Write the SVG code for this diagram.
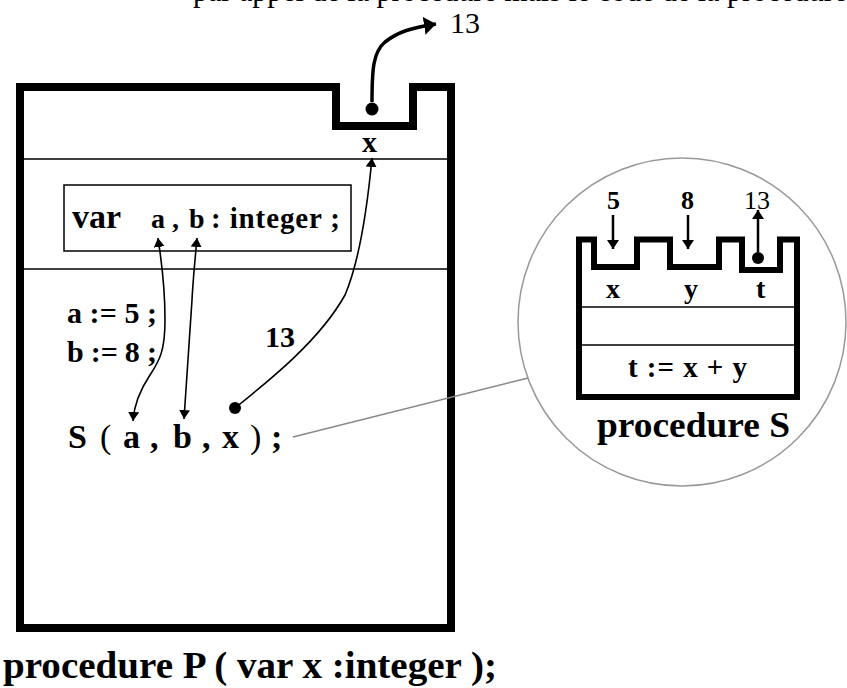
<svg xmlns="http://www.w3.org/2000/svg" width="847" height="688" viewBox="0 0 847 688">
<style>
.t{font-family:"Liberation Serif","Times New Roman",serif;font-weight:bold;fill:#000}
.n{font-family:"Liberation Serif","Times New Roman",serif;font-weight:normal;fill:#000}
.frame{fill:none;stroke:#000;stroke-linejoin:miter}
.thin{stroke:#000;stroke-width:1.5;fill:none}
.link{stroke:#000;stroke-width:1.6;fill:none}
.gray{stroke:#999;stroke-width:1.5;fill:none}
</style>
<defs>
<marker id="ah" viewBox="0 0 9 11" refX="9" refY="5.5" markerWidth="9" markerHeight="11" markerUnits="userSpaceOnUse" orient="auto-start-reverse"><path d="M0,0 L9,5.5 L0,11 Z" fill="#000"/></marker>
<marker id="ahm" viewBox="0 0 9 12" refX="9" refY="6" markerWidth="9" markerHeight="12" markerUnits="userSpaceOnUse" orient="auto"><path d="M0,0 L9,6 L0,12 Z" fill="#000"/></marker>
<marker id="ahb" viewBox="0 0 12 18" refX="12" refY="9" markerWidth="12" markerHeight="18" markerUnits="userSpaceOnUse" orient="auto"><path d="M0,0 L12,9 L0,18 Z" fill="#000"/></marker>
</defs>
<rect width="847" height="688" fill="#fff"/>
<text class="n" x="193" y="1" font-size="32" textLength="654" lengthAdjust="spacingAndGlyphs">par appel de la procédure mais le code de la procédure</text>

<g id="procP">
<path class="frame" stroke-width="8" d="M20,87 H336 V126 H413 V87 H451 V628 H20 Z"/>
<line class="thin" x1="24" y1="159" x2="447" y2="159"/>
<line class="thin" x1="24" y1="269" x2="447" y2="269"/>
<text class="t" x="362" y="152" font-size="30">x</text>
<circle cx="372" cy="109" r="6.5" fill="#000"/>
</g>

<g id="varbox">
<rect x="64" y="185" width="287" height="66" fill="none" stroke="#000" stroke-width="1.5"/>
<text class="t" x="72" y="228" font-size="34">var</text>
<text class="t" x="151" y="228" font-size="28">a</text>
<text class="t" x="172" y="228" font-size="28">,</text>
<text class="t" x="189" y="228" font-size="28">b</text>
<text class="t" x="211" y="228" font-size="29" textLength="129" lengthAdjust="spacing">: integer ;</text>
</g>

<g id="assign">
<text class="t" x="67" y="323" font-size="30" textLength="90" lengthAdjust="spacing">a := 5 ;</text>
<text class="t" x="67" y="362" font-size="30" textLength="90" lengthAdjust="spacing">b := 8 ;</text>
<text class="t" x="265" y="347" font-size="30">13</text>
</g>

<g id="call">
<text class="t" x="68" y="448" font-size="34">S</text>
<text class="n" x="100" y="448" font-size="34">(</text>
<text class="t" x="123" y="448" font-size="34">a</text>
<text class="t" x="150" y="448" font-size="34">,</text>
<text class="t" x="173" y="448" font-size="34">b</text>
<text class="t" x="202" y="448" font-size="34">,</text>
<text class="t" x="222" y="448" font-size="34">x</text>
<text class="n" x="250" y="448" font-size="34">)</text>
<text class="t" x="271" y="448" font-size="34">;</text>
<circle cx="235" cy="408" r="6" fill="#000"/>
</g>

<g id="out13">
<text class="n" x="450" y="33" font-size="30">13</text>
</g>

<g id="procS">
<circle cx="682" cy="322" r="164" class="gray"/>
<path class="frame" stroke-width="6" d="M579,239.5 H594 V267 H637 V239.5 H670 V267 H719 V239.5 H742 V270 H780 V239.5 H797 V397 H579 Z"/>
<line class="thin" x1="582" y1="307" x2="794" y2="307"/>
<line class="thin" x1="582" y1="345" x2="794" y2="345"/>
<text class="t" x="606" y="298" font-size="28">x</text>
<text class="t" x="684" y="298" font-size="28">y</text>
<text class="t" x="756" y="298" font-size="28">t</text>
<text class="t" x="628" y="377" font-size="29" textLength="119" lengthAdjust="spacing">t := x + y</text>
<text class="t" x="607" y="209" font-size="26">5</text>
<text class="t" x="681" y="209" font-size="26">8</text>
<text class="n" x="744" y="209" font-size="26">13</text>
<circle cx="758" cy="258" r="6" fill="#000"/>
<text class="t" x="597" y="437" font-size="36" textLength="193" lengthAdjust="spacingAndGlyphs">procedure S</text>
</g>

<g id="procPtitle">
<text class="t" x="3" y="678" font-size="38" textLength="494" lengthAdjust="spacingAndGlyphs">procedure P ( var  x :integer );</text>
</g>

<g id="connectors">
<path class="link" d="M158,238 C161,260 165,280 165,320 C165,350 160,360 150,375 C140,390 134,405 133,421" marker-start="url(#ah)" marker-end="url(#ah)"/>
<path class="link" d="M197,238 C195,260 193,280 192,300 L184,419" marker-start="url(#ah)" marker-end="url(#ah)"/>
<path class="link" d="M235,408 C270,380 320,340 345,295 C360,260 368,200 372,158" marker-end="url(#ah)"/>
<path d="M372,102 C372,70 373,52 385,42 C398,32 410,28 436,24" stroke="#000" stroke-width="3.5" fill="none" marker-end="url(#ahb)"/>
<line x1="293" y1="437" x2="528" y2="378" stroke="#888" stroke-width="1.5"/>
<line x1="613" y1="215" x2="613" y2="249" stroke="#000" stroke-width="2.5" marker-end="url(#ahm)"/>
<line x1="688" y1="215" x2="688" y2="249" stroke="#000" stroke-width="2.5" marker-end="url(#ahm)"/>
<line x1="758" y1="252" x2="758" y2="210" stroke="#000" stroke-width="2.5" marker-end="url(#ahm)"/>
</g>
</svg>
